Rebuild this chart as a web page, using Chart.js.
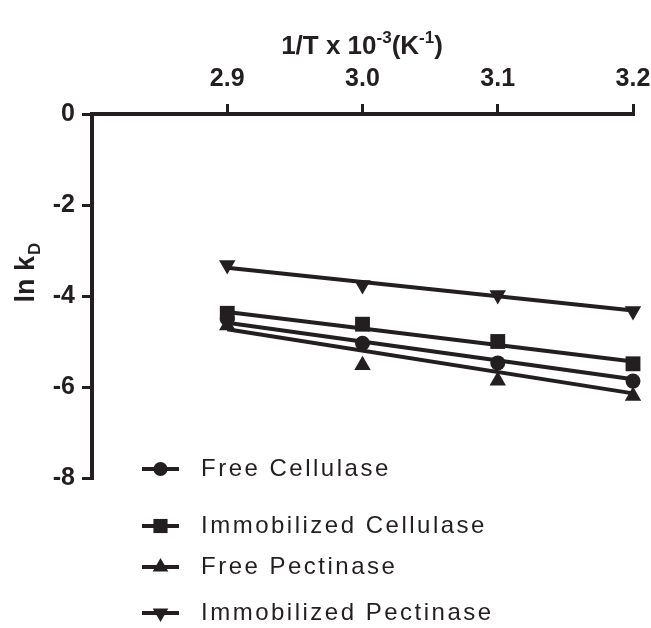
<!DOCTYPE html>
<html>
<head>
<meta charset="utf-8">
<script src="https://cdn.jsdelivr.net/npm/chart.js@4.4.0/dist/chart.umd.min.js"></script>
<style>
    html, body { margin: 0; padding: 0; background: #fff; }
    #wrap { width: 651px; height: 628px; }
</style>
</head>
<body>
<div id="wrap"><canvas id="chart" width="651" height="628"></canvas></div>
<script>
// Data
const xValues = [2.9, 3.0, 3.1, 3.2];
const fitX = [2.9, 3.2];
const xTicks = [2.9, 3.0, 3.1, 3.2];
const yTicks = [0, -2, -4, -6, -8];

const seriesNames = ['Free Cellulase', 'Immobilized Cellulase', 'Free Pectinase', 'Immobilized Pectinase'];
const freeCellulase = [-4.50, -5.04, -5.47, -5.87];
const immobCellulase = [-4.38, -4.62, -5.00, -5.49];
const freePectinase = [-4.65, -5.52, -5.86, -6.20];
const immobPectinase = [-3.32, -3.76, -3.98, -4.33];

// fitted lines, values at 2.9 and 3.2
const fitFreeCellulase = [-4.59, -5.83];
const fitImmobCellulase = [-4.35, -5.44];
const fitFreePectinase = [-4.73, -6.14];
const fitImmobPectinase = [-3.38, -4.32];

const ink = '#231f20';
const fontFamily = '"Liberation Sans", Arial, sans-serif';

const markers = [
    { pointStyle: 'circle', radius: 7.5, rotation: 0 },
    { pointStyle: 'rect', radius: 10.5, rotation: 0 },
    { pointStyle: 'triangle', radius: 9.5, rotation: 0 },
    { pointStyle: 'triangle', radius: 9.5, rotation: 180 }
];

function toPoints(xs, ys) {
    return xs.map((x, i) => ({ x: x, y: ys[i] }));
}

const pointSeries = [freeCellulase, immobCellulase, freePectinase, immobPectinase];
const fitSeries = [fitFreeCellulase, fitImmobCellulase, fitFreePectinase, fitImmobPectinase];

const datasets = [];
fitSeries.forEach(function(ys, i) {
    datasets.push({
        label: seriesNames[i] + ' fit',
        data: toPoints(fitX, ys),
        showLine: true,
        borderColor: ink,
        borderWidth: 4,
        pointRadius: 0,
        clip: false
    });
});
pointSeries.forEach(function(ys, i) {
    datasets.push({
        label: seriesNames[i],
        data: toPoints(xValues, ys),
        showLine: false,
        pointStyle: markers[i].pointStyle,
        pointRadius: markers[i].radius,
        pointRotation: markers[i].rotation,
        backgroundColor: ink,
        borderColor: ink,
        borderWidth: 0,
        clip: false
    });
});

// Axis titles with super/subscripts, and the legend below the plot
const decorations = {
    id: 'decorations',
    afterDraw(chart) {
        const ctx = chart.ctx;
        ctx.save();
        ctx.fillStyle = ink;
        ctx.textBaseline = 'alphabetic';

        // top title: 1/T x 10^-3 (K^-1)
        const big = 'bold 26px ' + fontFamily;
        const small = 'bold 17px ' + fontFamily;
        const parts = [
            { t: '1/T x 10', f: big, dy: 0 },
            { t: '-3', f: small, dy: -11 },
            { t: '(K', f: big, dy: 0 },
            { t: '-1', f: small, dy: -11 },
            { t: ')', f: big, dy: 0 }
        ];
        let total = 0;
        parts.forEach(p => { ctx.font = p.f; p.w = ctx.measureText(p.t).width; total += p.w; });
        let x = 362 - total / 2;
        ctx.textAlign = 'left';
        parts.forEach(p => {
            ctx.font = p.f;
            ctx.fillText(p.t, x, 54 + p.dy);
            x += p.w;
        });

        // left title: ln k_D (rotated)
        ctx.save();
        ctx.translate(34, 273);
        ctx.rotate(-Math.PI / 2);
        ctx.font = 'bold 27px ' + fontFamily;
        const w1 = ctx.measureText('ln k').width;
        ctx.font = small;
        const w2 = ctx.measureText('D').width;
        let sx = -(w1 + w2) / 2;
        ctx.font = 'bold 27px ' + fontFamily;
        ctx.fillText('ln k', sx, 0);
        ctx.font = small;
        ctx.fillText('D', sx + w1 + 1, 6);
        ctx.restore();

        // legend
        const rows = [469, 526, 567, 613];
        const legendMarks = [7, 10, 9, 9];
        ctx.font = '24px ' + fontFamily;
        ctx.textBaseline = 'middle';
        if ('letterSpacing' in ctx) ctx.letterSpacing = '2.5px';
        seriesNames.forEach(function(name, i) {
            const y = rows[i];
            ctx.strokeStyle = ink;
            ctx.lineWidth = 4;
            ctx.beginPath();
            ctx.moveTo(142, y);
            ctx.lineTo(179, y);
            ctx.stroke();
            Chart.helpers.drawPoint(ctx, {
                pointStyle: markers[i].pointStyle,
                rotation: markers[i].rotation,
                radius: legendMarks[i],
                borderWidth: 0
            }, 160.5, y);
            ctx.fillStyle = ink;
            ctx.fillText(name, 201, y);
        });
        ctx.restore();
    }
};

const chart = new Chart(document.getElementById('chart'), {
    type: 'scatter',
    data: { datasets: datasets },
    options: {
        responsive: false,
        animation: false,
        layout: { padding: { left: 0, top: 0, right: 18, bottom: 150 } },
        plugins: {
            legend: { display: false },
            tooltip: { enabled: false }
        },
        scales: {
            x: {
                type: 'linear',
                position: 'top',
                min: 2.8,
                max: 3.2,
                afterBuildTicks: function(scale) {
                    scale.ticks = xTicks.map(v => ({ value: v }));
                },
                afterFit: function(scale) {
                    scale.height = 114;
                    scale.paddingLeft = 0;
                    scale.paddingRight = 0;
                },
                ticks: {
                    color: ink,
                    padding: 10,
                    font: { family: fontFamily, size: 25, weight: 'bold' },
                    callback: v => Number(v).toFixed(1)
                },
                grid: { drawOnChartArea: false, drawTicks: true, tickLength: 10, lineWidth: 3, color: ink },
                border: { display: true, width: 4, color: ink }
            },
            y: {
                type: 'linear',
                min: -8,
                max: 0,
                afterBuildTicks: function(scale) {
                    scale.ticks = yTicks.map(v => ({ value: v }));
                },
                afterFit: function(scale) {
                    scale.width = 92;
                    scale.paddingTop = 0;
                    scale.paddingBottom = 0;
                },
                ticks: {
                    color: ink,
                    padding: 7,
                    font: { family: fontFamily, size: 25, weight: 'bold' },
                    callback: v => String(v)
                },
                grid: { drawOnChartArea: false, drawTicks: true, tickLength: 10, lineWidth: 3, color: ink },
                border: { display: true, width: 4, color: ink }
            }
        }
    },
    plugins: [decorations]
});
</script>
</body>
</html>
